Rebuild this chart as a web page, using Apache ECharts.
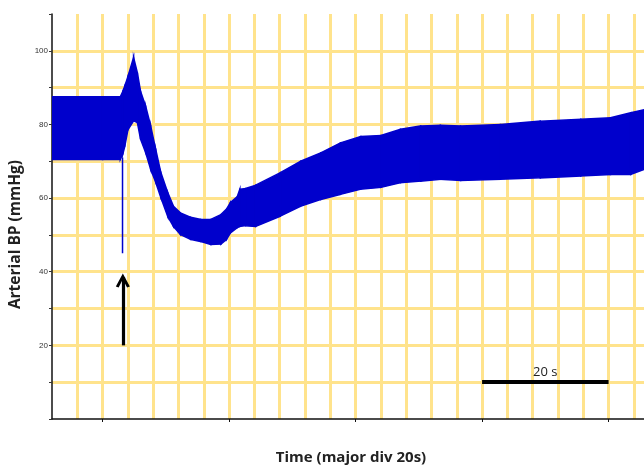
<!DOCTYPE html>
<html>
<head>
<meta charset="utf-8">
<script src="https://cdn.jsdelivr.net/npm/echarts@6/dist/echarts.min.js"></script>
<style>
html,body{margin:0;padding:0;background:#fff;}
#chart{width:644px;height:465px;}
</style>
</head>
<body>
<div id="chart"></div>
<script>
// Time (s) and envelope of the arterial BP trace (mmHg)
var timeS = [-8, 0, 2.8, 3.2, 3.5, 4.0, 4.9, 5.5, 6.0, 6.8, 7.6, 8.4, 9.2, 10.3, 11.2, 12.3, 13.9, 15.5, 17.1, 18.7, 19.6, 20.2, 21.3, 21.7, 22.6, 24.2, 28.1, 31.3, 34.5, 37.6, 40.8, 44.0, 47.1, 50.3, 53.4, 56.6, 62.9, 69.2, 75.6, 80.3, 83.5, 85.6];
var systolic = [87.5, 87.5, 87.5, 89, 90.4, 93, 98.2, 94, 89, 85, 79.6, 73.2, 67, 61.5, 57.8, 56, 54.8, 54.2, 54.2, 55.5, 57, 58.8, 60.4, 62.4, 62.6, 63.5, 66.9, 70, 72.3, 75, 76.7, 77, 78.7, 79.6, 79.8, 79.6, 80, 80.9, 81.4, 81.8, 83.2, 84];
var diastolic = [70.5, 70.5, 70.5, 72, 74, 78.5, 81, 80.5, 76, 72.4, 67.8, 64.3, 60.2, 55, 52.3, 50.1, 48.8, 48.2, 47.4, 47.5, 48.8, 50.5, 52, 52.3, 52.5, 52.3, 55.1, 57.8, 59.6, 61, 62.4, 62.9, 64.2, 64.6, 65.1, 64.8, 65.1, 65.5, 66, 66.4, 66.4, 67.8];
// Injection artefact (spike) and arrow
var spikeTime = [3.15, 3.15];
var spikeBP = [71, 45];
var arrowTime = [3.2, 3.2];
var arrowBP = [20, 39.5];
// Scale bar
var scaleBarTime = [60, 80];
var scaleBarBP = 10;
var scaleBarText = '20 s';
// Axis ticks
var xMajorTicks = [0, 20, 40, 60, 80];
var yTickLabels = [20, 40, 60, 80, 100];
var yAxisName = 'Arterial BP (mmHg)';
var xAxisName = 'Time (major div 20s)';

var bandData = timeS.map(function (t, i) { return [t, systolic[i], diastolic[i]]; });
var spikeData = spikeTime.map(function (t, i) { return [t, spikeBP[i]]; });

var grid = '#FFE38C';
var blue = '#0000CC';
var chart = echarts.init(document.getElementById('chart'));
chart.setOption({
  animation: false,
  backgroundColor: '#ffffff',
  grid: { left: 52, right: 0, top: 14, bottom: 46, containLabel: false, outerBoundsMode: 'none' },
  xAxis: [{
    type: 'value', min: -8, max: 85.6, interval: 4,
    axisLine: { show: false },
    axisTick: { show: false },
    axisLabel: { show: false },
    splitLine: { show: true, showMinLine: false, showMaxLine: false, lineStyle: { color: grid, width: 3 } }
  }, {
    type: 'value', min: -8, max: 85.6, position: 'bottom', offset: 0,
    name: xAxisName, nameLocation: 'middle', nameGap: 31,
    nameTextStyle: { fontFamily: 'Open Sans', fontWeight: 'bold', fontSize: 15, color: '#222', padding: [0, 0, 0, 6] },
    axisLine: { show: true, onZero: false, lineStyle: { color: '#111', width: 1.5 } },
    axisTick: { show: true, customValues: xMajorTicks, length: 3, lineStyle: { color: '#111', width: 1 } },
    axisLabel: { show: false },
    splitLine: { show: false }
  }],
  yAxis: {
    type: 'value', min: 0, max: 110, interval: 10,
    name: yAxisName, nameLocation: 'middle', nameGap: 25,
    nameTextStyle: { fontFamily: 'Open Sans', fontWeight: 'bold', fontSize: 15.5, color: '#222', padding: [0, 36, 0, 0] },
    axisLine: { show: true, onZero: false, lineStyle: { color: '#111', width: 1.5 } },
    axisTick: { show: true, length: 3, lineStyle: { color: '#333', width: 1 } },
    axisLabel: {
      show: true, customValues: yTickLabels, margin: 4,
      fontFamily: 'Liberation Sans', fontSize: 8, color: '#333'
    },
    splitLine: { show: true, showMinLine: false, showMaxLine: false, lineStyle: { color: grid, width: 3 } }
  },
  series: [
    {
      type: 'custom', xAxisIndex: 0, data: bandData, silent: true, z: 3,
      clip: true,
      renderItem: function (params, api) {
        var i = params.dataIndexInside;
        if (i >= params.dataInsideLength - 1) return null;
        var t0 = api.value(0, i), t1 = api.value(0, i + 1);
        var pts = [
          api.coord([t0, api.value(1, i)]),
          api.coord([t1, api.value(1, i + 1)]),
          api.coord([t1, api.value(2, i + 1)]),
          api.coord([t0, api.value(2, i)])
        ];
        return {
          type: 'polygon',
          shape: { points: pts },
          style: { fill: blue, stroke: blue, lineWidth: 1.5 }
        };
      }
    },
    {
      type: 'line', xAxisIndex: 0, data: spikeData, symbol: 'none',
      lineStyle: { width: 1.5, color: blue }, z: 4
    },
    {
      type: 'scatter', xAxisIndex: 0, z: 6, silent: true,
      data: [[arrowTime[1], arrowBP[1]]],
      symbol: 'path://M0,13 L7,0 L14,13 L11.2,14 L7,5.6 L2.8,14 Z',
      symbolSize: [14, 14], symbolOffset: [0, '50%'],
      itemStyle: { color: '#000', opacity: 1 },
      markLine: {
        silent: true, symbol: 'none',
        lineStyle: { color: '#000', width: 3.2, type: 'solid' },
        label: { show: false },
        data: [[{ coord: [arrowTime[0], arrowBP[0]] }, { coord: [arrowTime[1], arrowBP[1] - 1] }]]
      }
    },
    {
      type: 'line', xAxisIndex: 0, data: [], symbol: 'none', z: 5,
      markLine: {
        silent: true, symbol: 'none',
        lineStyle: { color: '#000', width: 4, type: 'solid' },
        label: { show: true, position: 'insideMiddleTop', formatter: scaleBarText, fontFamily: 'Open Sans', fontSize: 13, color: '#222', distance: 3 },
        data: [[{ coord: [scaleBarTime[0], scaleBarBP] }, { coord: [scaleBarTime[1], scaleBarBP] }]]
      }
    }
  ]
});
</script>
</body>
</html>
